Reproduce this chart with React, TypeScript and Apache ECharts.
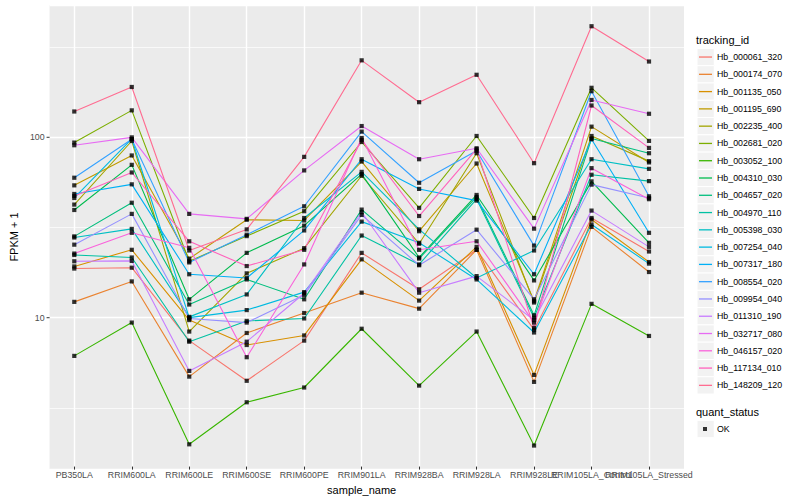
import React, { useEffect, useRef } from "react";
import * as echarts from "echarts";

const categories = [
  "PB350LA", "RRIM600LA", "RRIM600LE", "RRIM600SE", "RRIM600PE", "RRIM901LA",
  "RRIM928BA", "RRIM928LA", "RRIM928LE", "RRIM105LA_Control", "RRIM105LA_Stressed",
];

const trackingIds = [
  "Hb_000061_320", "Hb_000174_070", "Hb_001135_050", "Hb_001195_690", "Hb_002235_400",
  "Hb_002681_020", "Hb_003052_100", "Hb_004310_030", "Hb_004657_020", "Hb_004970_110",
  "Hb_005398_030", "Hb_007254_040", "Hb_007317_180", "Hb_008554_020", "Hb_009954_040",
  "Hb_011310_190", "Hb_032717_080", "Hb_046157_020", "Hb_117134_010", "Hb_148209_120",
];

const seriesColors = [
  "#F8766D", "#EA8331", "#D89000", "#C09B00", "#A3A500", "#7CAE00", "#39B600",
  "#00BB4E", "#00BF7D", "#00C1A3", "#00BFC4", "#00BAE0", "#00B0F6", "#35A2FF",
  "#9590FF", "#C77CFF", "#E76BF3", "#FA62DB", "#FF62BC", "#FF6C91",
];

// FPKM + 1 per sample (same order as categories)
const hb000061 = [18.4, 18.6, 7.3, 4.36, 7.3, 22.5, 14.1, 23.4, 8.4, 35.2, 22.9];
const hb000174 = [12.0, 15.6, 4.6, 8.05, 10.4, 13.5, 11.0, 23.4, 4.3, 31.4, 17.6];
const hb001135 = [18.9, 23.4, 9.5, 6.9, 7.8, 20.7, 12.2, 24.3, 4.7, 34.5, 20.0];
const hb001195 = [53.5, 78.5, 20.9, 34.4, 34.1, 72.6, 29.7, 70.8, 12.1, 113.6, 71.8];
const hb002235 = [41.8, 94.5, 8.2, 17.3, 23.9, 60.5, 25.3, 80.8, 11.9, 100.8, 73.0];
const hb002681 = [92.6, 140, 20.2, 27.9, 38.4, 93.3, 40.1, 100.8, 35.2, 187, 94.6];
const hb003052 = [6.0, 9.2, 1.93, 3.31, 4.0, 8.5, 4.1, 8.2, 1.9, 11.7, 7.75];
const hb004310 = [39.0, 69.6, 12.4, 22.5, 31.9, 61.8, 21.2, 47.3, 15.8, 56.3, 25.6];
const hb004657 = [27.8, 42.8, 11.6, 16.0, 12.4, 39.2, 20.9, 46.1, 10.1, 97.5, 80.8];
const hb004970 = [21.9, 21.2, 7.2, 9.4, 9.7, 28.1, 19.4, 44.9, 9.8, 61.3, 56.5];
const hb005398 = [27.4, 30.6, 9.9, 13.2, 35.2, 63.6, 30.4, 16.3, 23.2, 74.8, 66.1];
const hb007254 = [45.5, 97.0, 9.8, 10.8, 13.6, 33.6, 25.6, 16.0, 8.1, 32.4, 19.6];
const hb007317 = [47.9, 54.2, 17.1, 16.3, 30.0, 74.8, 51.1, 44.0, 17.1, 96.6, 29.1];
const hb008554 = [59.0, 96.6, 19.9, 28.4, 40.9, 106.6, 55.3, 83.3, 24.7, 179, 46.5];
const hb009954 = [25.0, 37.1, 9.7, 9.2, 13.1, 36.6, 19.2, 30.3, 12.4, 54.0, 45.5];
const hb011310 = [20.2, 20.3, 4.95, 7.2, 13.4, 37.9, 13.5, 16.7, 9.5, 38.7, 24.3];
const hb032717 = [89.5, 99.0, 37.1, 34.8, 64.8, 114.5, 74.8, 86.1, 30.7, 160, 134];
const hb046157 = [22.3, 29.1, 24.0, 5.9, 19.4, 98.2, 23.4, 26.1, 9.2, 66.7, 44.8];
const hb117134 = [46.7, 63.1, 26.1, 19.0, 23.4, 95.8, 36.1, 85.1, 8.6, 149, 86.5];
const hb148209 = [138, 189, 23.2, 30.4, 77.1, 266, 155.5, 221, 71.1, 412, 262];

const seriesValues = [
  hb000061, hb000174, hb001135, hb001195, hb002235, hb002681, hb003052, hb004310,
  hb004657, hb004970, hb005398, hb007254, hb007317, hb008554, hb009954, hb011310,
  hb032717, hb046157, hb117134, hb148209,
];

const majorBreaks = [10, 100];
const minorBreaks = [3.1623, 31.623, 316.23];
const yMin = 1.45;
const yMax = 541;
const statusLabels = ["OK"];

export default function App() {
  const ref = useRef<HTMLDivElement>(null);

  useEffect(() => {
    document.body.style.margin = "0";
    const chart = echarts.init(ref.current!, null, { renderer: "svg" });
    const font = "'Liberation Sans', Arial, Helvetica, sans-serif";
    const KEY = 17.28;
    const legendTop = 48.4;

    const lineSeries = trackingIds.map((name, i) => ({
      name,
      type: "line",
      xAxisIndex: 0,
      yAxisIndex: 0,
      data: seriesValues[i],
      showSymbol: false,
      symbol: "none",
      lineStyle: { color: seriesColors[i], width: 1.1 },
      itemStyle: { color: seriesColors[i] },
      z: 2,
      silent: true,
      emphasis: { disabled: true },
    }));

    const points: [number, number][] = [];
    seriesValues.forEach((vals) => vals.forEach((v, j) => points.push([j, v])));

    const keyRects: any[] = trackingIds.map((_, i) => ({
      type: "rect",
      shape: { x: 697, y: legendTop + i * KEY, width: KEY, height: KEY },
      style: { fill: "#F2F2F2", stroke: "#FFFFFF", lineWidth: 1 },
      silent: true,
      z: -1,
    }));
    keyRects.push({
      type: "rect",
      shape: { x: 697, y: 429 - KEY / 2, width: KEY, height: KEY },
      style: { fill: "#F2F2F2", stroke: "#FFFFFF", lineWidth: 1 },
      silent: true,
      z: -1,
    });

    const isMajor = (v: number) => majorBreaks.some((b) => Math.abs(b - v) < 1e-6 * b);

    const option: any = {
      animation: false,
      backgroundColor: "#FFFFFF",
      textStyle: { fontFamily: font },
      grid: [
        { left: 45.56, right: 122.26, top: 5, bottom: 31, show: false },
        { left: 40, right: 116, top: 5, bottom: 31, show: true, backgroundColor: "#EBEBEB", borderWidth: 0 },
      ],
      xAxis: [
        {
          type: "category",
          gridIndex: 0,
          position: "bottom",
          data: categories,
          boundaryGap: true,
          axisLine: { show: false },
          axisTick: {
            show: true,
            alignWithLabel: true,
            inside: true,
            length: 464,
            interval: 0,
            lineStyle: { color: "#FFFFFF", width: 1.4 },
          },
          axisLabel: {
            interval: 0,
            hideOverlap: false,
            fontSize: 8.8,
            color: "#4D4D4D",
            margin: 3.5,
            fontFamily: font,
          },
          splitLine: { show: false },
          name: "sample_name",
          nameLocation: "middle",
          nameGap: 13.5,
          nameTextStyle: { fontSize: 11, color: "#000000", fontFamily: font },
        },
        {
          type: "category",
          gridIndex: 0,
          position: "bottom",
          data: categories,
          boundaryGap: true,
          axisLine: { show: false },
          axisTick: { show: true, alignWithLabel: true, length: 3, interval: 0, lineStyle: { color: "#333333", width: 1 } },
          axisLabel: { show: false },
          splitLine: { show: false },
        },
        { type: "value", gridIndex: 1, min: 0, max: 1, show: false },
      ],
      yAxis: [
        { type: "log", logBase: 10, gridIndex: 0, min: yMin, max: yMax, show: false },
        {
          type: "log",
          logBase: 10,
          gridIndex: 1,
          min: yMin,
          max: yMax,
          axisLine: { show: false },
          axisTick: { show: false },
          axisLabel: {
            margin: 0,
            fontFamily: font,
            formatter: (v: number) => (isMajor(v) ? `{v|${Math.round(v)}}{g|}{t|}` : ""),
            rich: {
              v: { fontSize: 8.8, color: "#4D4D4D", fontFamily: font },
              g: { width: 2, height: 1 },
              t: { width: 3, height: 1, backgroundColor: "#333333", verticalAlign: "middle" },
            },
          },
          splitLine: { show: true, lineStyle: { color: "#FFFFFF", width: 1.4 } },
          name: "FPKM + 1",
          nameLocation: "middle",
          nameGap: 22,
          nameTextStyle: { fontSize: 11, color: "#000000", fontFamily: font },
        },
      ],
      legend: [
        {
          data: trackingIds,
          orient: "vertical",
          left: 699,
          top: legendTop,
          padding: 0,
          itemGap: 0,
          itemWidth: 13,
          itemHeight: 1.3,
          icon: "rect",
          selectedMode: false,
          textStyle: { fontSize: 8.8, color: "#000000", lineHeight: KEY, fontFamily: font },
        },
        {
          data: statusLabels,
          orient: "vertical",
          left: 703,
          top: 429 - KEY / 2,
          padding: 0,
          itemGap: 0,
          itemWidth: 4,
          itemHeight: 4,
          icon: "rect",
          selectedMode: false,
          textStyle: { fontSize: 8.8, color: "#000000", lineHeight: KEY, padding: [0, 0, 0, 5], fontFamily: font },
        },
      ],
      graphic: [
        ...keyRects,
        {
          type: "text",
          x: 696,
          y: 40,
          style: { text: "tracking_id", fontSize: 11, fill: "#000000", verticalAlign: "middle", fontFamily: font },
          silent: true,
        },
        {
          type: "text",
          x: 696,
          y: 412,
          style: { text: "quant_status", fontSize: 11, fill: "#000000", verticalAlign: "middle", fontFamily: font },
          silent: true,
        },
      ],
      series: [
        {
          name: "__minor",
          type: "line",
          xAxisIndex: 2,
          yAxisIndex: 1,
          data: [[0.5, 10]],
          symbol: "none",
          showSymbol: false,
          lineStyle: { opacity: 0 },
          silent: true,
          z: 1,
          markLine: {
            silent: true,
            z: 1,
            symbol: ["none", "none"],
            label: { show: false },
            emphasis: { disabled: true },
            lineStyle: { color: "#FFFFFF", width: 0.7, type: "solid" },
            data: minorBreaks.map((v) => ({ yAxis: v })),
          },
        },
        ...lineSeries,
        {
          name: statusLabels[0],
          type: "scatter",
          xAxisIndex: 0,
          yAxisIndex: 0,
          data: points,
          symbol: "rect",
          symbolSize: 4.2,
          itemStyle: { color: "#000000" },
          z: 3,
          silent: true,
          emphasis: { disabled: true },
        },
      ],
    };

    chart.setOption(option);
    return () => chart.dispose();
  }, []);

  return <div ref={ref} style={{ width: 800, height: 500 }} />;
}
